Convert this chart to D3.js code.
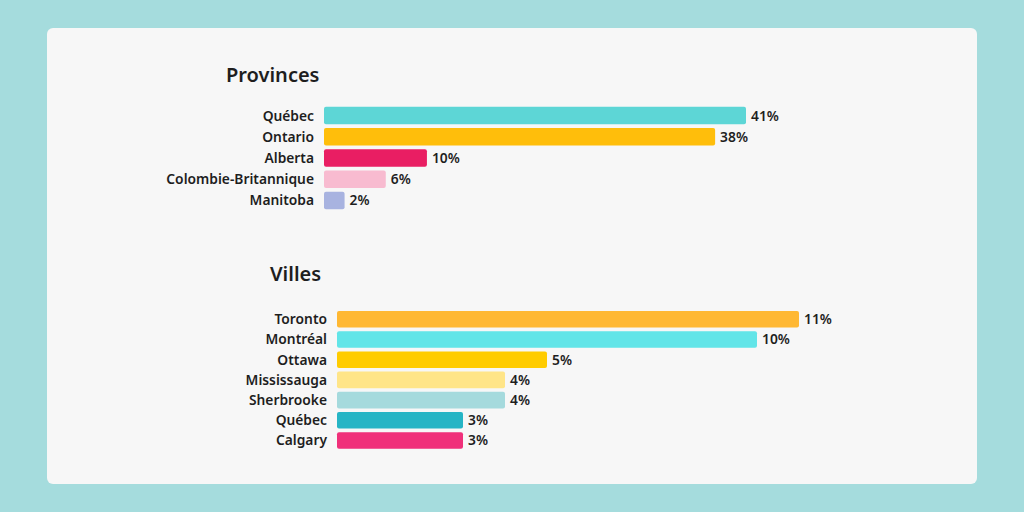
<!DOCTYPE html>
<html>
<head>
<meta charset="utf-8">
<script src="https://cdn.jsdelivr.net/npm/d3@7"></script>
<style>
  body { margin: 0; background: #a5dcdd; }
  svg { display: block; }
  text { font-family: "Noto Sans", sans-serif; fill: #1e1e1e; }
</style>
</head>
<body>
<script>
  // provinces
  var provNames = ["Québec", "Ontario", "Alberta", "Colombie-Britannique", "Manitoba"];
  var provValues = [41, 38, 10, 6, 2];
  var provColors = ["#5dd6d6", "#ffbe0b", "#e91e63", "#f8bbd0", "#a8b3e0"];

  // villes
  var cityNames = ["Toronto", "Montréal", "Ottawa", "Mississauga", "Sherbrooke", "Québec", "Calgary"];
  var cityValues = [11, 10, 5, 4, 4, 3, 3];
  var cityColors = ["#ffb833", "#62e5e8", "#ffcc00", "#ffe588", "#a5dadd", "#26b5c5", "#f0307a"];

  var W = 1024, H = 512;

  var svg = d3.select("body").append("svg")
    .attr("width", W)
    .attr("height", H);

  svg.append("rect")
    .attr("width", W).attr("height", H)
    .attr("fill", "#a5dcdd");

  svg.append("rect")
    .attr("x", 47).attr("y", 28)
    .attr("width", 930).attr("height", 456)
    .attr("rx", 6)
    .attr("fill", "#f7f7f7");

  function drawBlock(opt) {
    var x = d3.scaleLinear()
      .domain([0, d3.max(opt.values)])
      .range([opt.x0, opt.x1]);

    var y = d3.scaleBand()
      .domain(opt.names)
      .range(opt.yRange)
      .paddingInner(opt.pad)
      .paddingOuter(opt.pad / 2);

    var g = svg.append("g");

    g.append("text")
      .attr("x", opt.titleX)
      .attr("y", opt.titleY)
      .attr("font-size", 20)
      .attr("font-weight", 600)
      .text(opt.title);

    var rows = g.selectAll(".row")
      .data(opt.names)
      .enter().append("g")
      .attr("class", "row");

    rows.append("rect")
      .attr("x", x(0))
      .attr("y", function(d) { return y(d); })
      .attr("width", function(d, i) { return x(opt.values[i]) - x(0); })
      .attr("height", y.bandwidth())
      .attr("rx", 2)
      .attr("fill", function(d, i) { return opt.colors[i]; });

    rows.append("text")
      .attr("x", x(0) - 10)
      .attr("y", function(d) { return y(d) + y.bandwidth() / 2; })
      .attr("dy", "0.36em")
      .attr("text-anchor", "end")
      .attr("font-size", 13.8)
      .attr("font-weight", 600)
      .text(function(d) { return d; });

    rows.append("text")
      .attr("x", function(d, i) { return x(opt.values[i]) + 5; })
      .attr("y", function(d) { return y(d) + y.bandwidth() / 2; })
      .attr("dy", "0.36em")
      .attr("font-size", 13.8)
      .attr("font-weight", 600)
      .text(function(d, i) { return opt.values[i] + "%"; });
  }

  drawBlock({
    title: "Provinces", titleX: 226, titleY: 82,
    names: provNames, values: provValues, colors: provColors,
    x0: 324, x1: 746, yRange: [105, 211], pad: 0.175
  });

  drawBlock({
    title: "Villes", titleX: 270, titleY: 281,
    names: cityNames, values: cityValues, colors: cityColors,
    x0: 337, x1: 799, yRange: [309.2, 450.6], pad: 0.18
  });
</script>
</body>
</html>
